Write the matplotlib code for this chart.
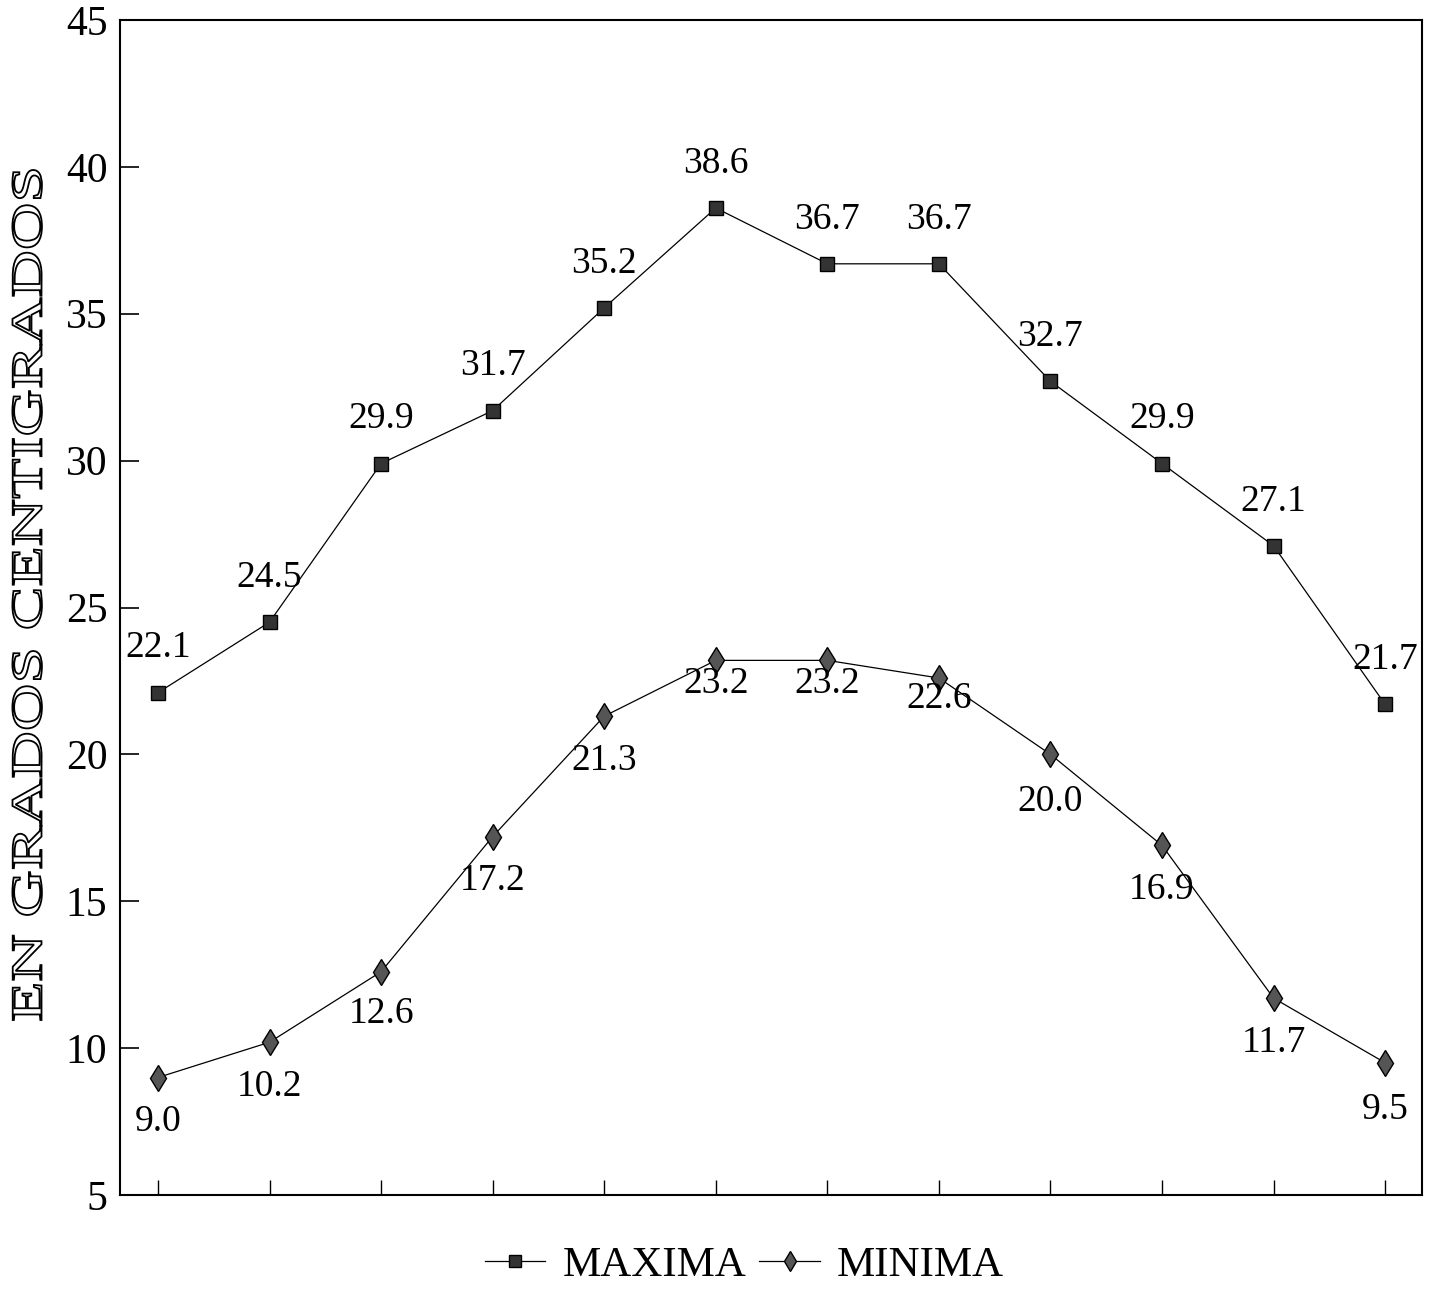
import numpy as np
import matplotlib
matplotlib.use("Agg")
import matplotlib.pyplot as plt
from matplotlib.textpath import TextPath
from matplotlib.patches import PathPatch
from matplotlib.font_manager import FontProperties
from matplotlib.transforms import Affine2D

# datos (temperaturas mensuales)
meses = np.arange(1, 13)
maxima = [22.1, 24.5, 29.9, 31.7, 35.2, 38.6, 36.7, 36.7, 32.7, 29.9, 27.1, 21.7]
minima = [9.0, 10.2, 12.6, 17.2, 21.3, 23.2, 23.2, 22.6, 20.0, 16.9, 11.7, 9.5]
y_ticks = [5, 10, 15, 20, 25, 30, 35, 40, 45]
ylabel = "EN GRADOS CENTIGRADOS"

# desplazamiento vertical de etiquetas (pt)
off_max = [32] * 12
off_min = [-32, -32, -30, -32, -32, -17, -17, -15, -34, -32, -32, -34]

plt.rcParams['font.family'] = ['Liberation Serif', 'DejaVu Serif']

fig = plt.figure(figsize=(14.32, 12.92), dpi=100)
ax = fig.add_axes([120 / 1432, 1 - 1195 / 1292, 1302 / 1432, 1175 / 1292])

ax.plot(meses, maxima, color='black', lw=0.9, marker='s', ms=10,
        mfc='#333333', mec='black', label='MAXIMA')
ax.plot(meses, minima, color='black', lw=0.9, marker='d', ms=13,
        mfc='#555555', mec='black', label='MINIMA')

for x, v, dy in zip(meses, maxima, off_max):
    ax.annotate(f"{v:.1f}", (x, v), xytext=(0, dy), textcoords='offset points',
                ha='center', va='center', fontsize=27)
for x, v, dy in zip(meses, minima, off_min):
    ax.annotate(f"{v:.1f}", (x, v), xytext=(0, dy), textcoords='offset points',
                ha='center', va='center', fontsize=27)

ax.set_xlim(0.66, 12.33)
ax.set_ylim(5, 45)
ax.set_yticks(y_ticks)
ax.set_xticks(meses)
ax.set_xticklabels([])
ax.tick_params(axis='y', direction='in', length=14, width=1.2, labelsize=30, pad=9)
ax.tick_params(axis='x', direction='in', length=11, width=1.0)
for s in ax.spines.values():
    s.set_linewidth(1.5)

# etiqueta eje y: letras huecas y estiradas
tp = TextPath((0, 0), ylabel, size=1, prop=FontProperties(family='Liberation Serif'))
bb = tp.get_extents()
sx = 8.5 / bb.width
sy = 0.29 / 0.66
tr = (Affine2D().translate(-bb.x0 - bb.width / 2, -0.33).scale(sx, sy)
      .rotate_deg(90).translate(0.27, 12.92 * (1 - 595 / 1292)))
fig.add_artist(PathPatch(tp, transform=tr + fig.dpi_scale_trans,
                         facecolor='white', edgecolor='black', lw=1.3))

fig.legend(loc='center', bbox_to_anchor=(0.52, 1 - 1265 / 1292), ncol=2,
           frameon=False, fontsize=31, handlelength=1.4, handletextpad=0.4,
           columnspacing=0.3, markerscale=0.8)

fig.savefig("out.png", dpi=100)
